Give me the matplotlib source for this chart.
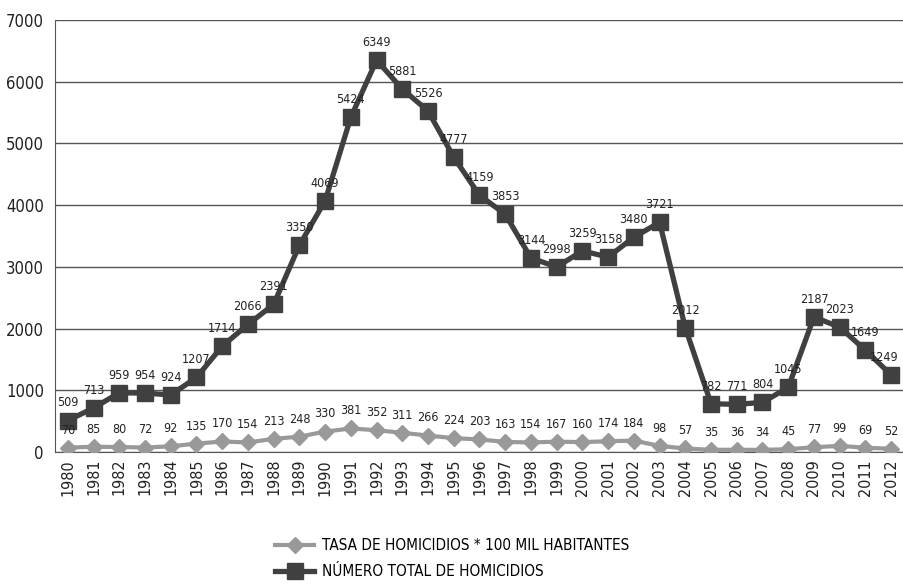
import matplotlib
matplotlib.use('Agg')
import matplotlib.pyplot as plt

plt.rcParams['font.family'] = ['DejaVu Sans']
plt.rcParams['font.stretch'] = 'condensed'

years = list(range(1980, 2013))
total_homicidios = [509, 713, 959, 954, 924, 1207, 1714, 2066, 2391, 3350, 4069, 5424,
                    6349, 5881, 5526, 4777, 4159, 3853, 3144, 2998, 3259, 3158, 3480,
                    3721, 2012, 782, 771, 804, 1045, 2187, 2023, 1649, 1249]
tasa_homicidios = [70, 85, 80, 72, 92, 135, 170, 154, 213, 248, 330, 381, 352, 311, 266,
                   224, 203, 163, 154, 167, 160, 174, 184, 98, 57, 35, 36, 34, 45, 77,
                   99, 69, 52]
y_ticks = [0, 1000, 2000, 3000, 4000, 5000, 6000, 7000]

fig = plt.figure(figsize=(9.04, 5.85), dpi=100)
ax = fig.add_axes([0.0608, 0.2274, 0.9392, 0.7384])

x = list(range(len(years)))

ax.plot(x, tasa_homicidios, color='#999999', linewidth=3, marker='D', markersize=8,
        label='TASA DE HOMICIDIOS * 100 MIL HABITANTES', zorder=3)
ax.plot(x, total_homicidios, color='#404040', linewidth=3.8, marker='s', markersize=11.5,
        label='NÚMERO TOTAL DE HOMICIDIOS', zorder=4)

# last label sits against the right edge, nudge it inward
for series in (total_homicidios, tasa_homicidios):
    for xi, v in zip(x, series):
        dx = -5 if xi == x[-1] and v > 1000 else 0
        ax.annotate(str(v), (xi, v), xytext=(dx, 8), textcoords='offset points',
                    ha='center', va='bottom', fontsize=9, color='#222222', zorder=5)

ax.set_xlim(-0.5, len(years) - 0.5)
ax.set_ylim(0, 7000)
ax.set_yticks(y_ticks)
ax.set_yticklabels([str(t) for t in y_ticks], fontsize=12)
ax.set_xticks(x)
ax.set_xticklabels([str(y) for y in years], rotation=90, fontsize=11.5)
ax.tick_params(axis='both', length=0, colors='#222222')
ax.tick_params(axis='y', pad=8)
ax.tick_params(axis='x', pad=5)

ax.grid(axis='y', color='#555555', linewidth=1)
ax.set_axisbelow(True)
for side in ['right', 'top']:
    ax.spines[side].set_visible(False)
ax.spines['left'].set_color('#555555')
ax.spines['bottom'].set_color('#555555')

leg = fig.legend(loc='center', bbox_to_anchor=(0.5, 0.045), ncol=1, frameon=False,
                 fontsize=11, handlelength=2.6, labelspacing=0.7, handletextpad=0.5)

fig.savefig('out.png', dpi=100)
